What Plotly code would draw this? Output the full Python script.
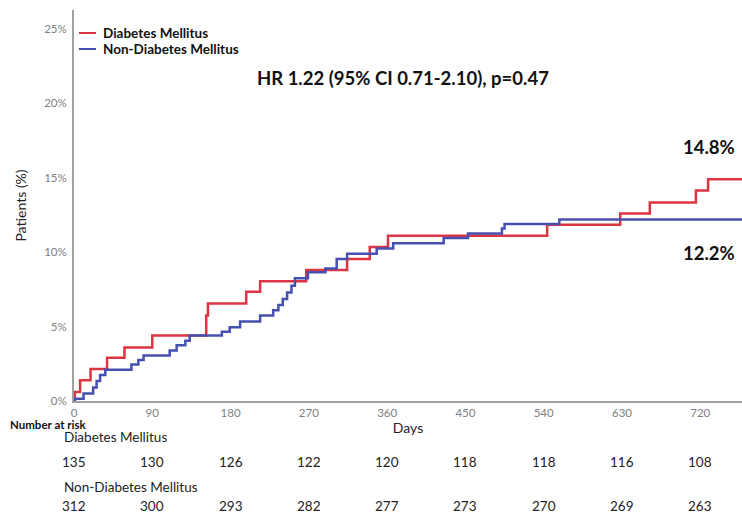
import plotly.graph_objects as go

# ---- data ----
dm_days = [0, 1, 7, 19, 38, 58, 90, 152, 154, 198, 214, 267, 314, 340, 361, 544, 628, 662, 715, 729, 768]
dm_pct = [0, 0.6, 1.4, 2.15, 2.9, 3.6, 4.4, 5.75, 6.55, 7.35, 8.05, 8.8, 9.55, 10.35, 11.1, 11.85, 12.6, 13.35, 14.15, 14.9, 14.9]

ndm_days = [0, 1, 11, 22, 26, 30, 36, 66, 74, 80, 110, 118, 128, 133, 170, 179, 191, 214, 229, 235,
            240, 245, 250, 254, 269, 289, 302, 314, 348, 367, 425, 453, 492, 495, 558, 768]
ndm_pct = [0, 0.15, 0.5, 0.9, 1.35, 1.75, 2.1, 2.45, 2.75, 3.05, 3.4, 3.75, 4.05, 4.4, 4.65, 4.95, 5.35,
           5.75, 6.1, 6.45, 6.85, 7.3, 7.75, 8.25, 8.65, 8.9, 9.55, 9.9, 10.25, 10.6, 10.95, 11.25,
           11.6, 11.9, 12.2, 12.2]

x_ticks = [0, 90, 180, 270, 360, 450, 540, 630, 720]
y_ticks = [0, 5, 10, 15, 20, 25]

risk_dm = [135, 130, 126, 122, 120, 118, 118, 116, 108]
risk_ndm = [312, 300, 293, 282, 277, 273, 270, 269, 263]

series_names = ["Diabetes Mellitus", "Non-Diabetes Mellitus"]
final_labels = ["14.8%", "12.2%"]
hr_text = "HR 1.22 (95% CI 0.71-2.10), p=0.47"

RED = "#dc3440"
BLUE = "#4550b0"
FONT = "Lato"

fig = go.Figure()
fig.add_trace(go.Scatter(x=dm_days, y=dm_pct, mode="lines", line_shape="hv",
                         line=dict(color=RED, width=2.5), name=series_names[0], showlegend=False))
fig.add_trace(go.Scatter(x=ndm_days, y=ndm_pct, mode="lines", line_shape="hv",
                         line=dict(color=BLUE, width=2.5), name=series_names[1], showlegend=False))

ann = []
shapes = []
# legend drawn in the top-left corner
for name, col, ly in zip(series_names, [RED, BLUE], [0.9412, 0.9003]):
    shapes.append(dict(type="line", xref="paper", yref="paper", x0=0.0075, x1=0.0329, y0=ly, y1=ly,
                       line=dict(color=col, width=2)))
    ann.append(dict(x=0.0410, y=ly, xref="paper", yref="paper", xanchor="left", yanchor="middle",
                    text=f"<b>{name}</b>", showarrow=False,
                    font=dict(family=FONT, size=13.5, color="#111")))

# HR text and final values
ann.append(dict(x=378, y=21.74, xref="x", yref="y", text=f"<b>{hr_text}</b>", showarrow=False,
                font=dict(family=FONT, size=18.5, color="#111")))
ann.append(dict(x=730, y=17.07, xref="x", yref="y", text=f"<b>{final_labels[0]}</b>", showarrow=False,
                font=dict(family=FONT, size=18.5, color="#111")))
ann.append(dict(x=730, y=9.95, xref="x", yref="y", text=f"<b>{final_labels[1]}</b>", showarrow=False,
                font=dict(family=FONT, size=18.5, color="#111")))

# number at risk table
ann.append(dict(x=-0.0988, y=-0.060, xref="paper", yref="paper", xanchor="left", yanchor="middle",
                text="<b>Number at risk</b>", showarrow=False,
                font=dict(family=FONT, size=11.5, color="#111")))
ann.append(dict(x=-0.018, y=-0.092, xref="paper", yref="paper", xanchor="left", yanchor="middle",
                text=series_names[0], showarrow=False, font=dict(family=FONT, size=13.5, color="#222")))
ann.append(dict(x=-0.018, y=-0.220, xref="paper", yref="paper", xanchor="left", yanchor="middle",
                text=series_names[1], showarrow=False, font=dict(family=FONT, size=13.5, color="#222")))
for d, n in zip(x_ticks, risk_dm):
    ann.append(dict(x=d, y=-0.156, xref="x", yref="paper", text=str(n), showarrow=False,
                    xanchor="center", yanchor="middle", font=dict(family=FONT, size=13.5, color="#222")))
for d, n in zip(x_ticks, risk_ndm):
    ann.append(dict(x=d, y=-0.2685, xref="x", yref="paper", text=str(n), showarrow=False,
                    xanchor="center", yanchor="middle", font=dict(family=FONT, size=13.5, color="#222")))

fig.update_layout(
    width=742, height=516,
    margin=dict(l=74, r=0, t=10, b=115),
    paper_bgcolor="white", plot_bgcolor="white",
    font=dict(family=FONT, color="#222"),
    showlegend=False,
    annotations=ann,
    shapes=shapes,
    xaxis=dict(range=[0, 768], tickvals=x_ticks, ticktext=[str(v) for v in x_ticks],
               showgrid=False, zeroline=False, showline=True, linecolor="#a0a0a0", linewidth=2,
               ticks="", tickfont=dict(family=FONT, size=11.5, color="#808080"), automargin=False,
               title=dict(text="Days", font=dict(family=FONT, size=14, color="#222"), standoff=5)),
    yaxis=dict(range=[0, 26.28], tickvals=y_ticks, ticktext=[f"{v}%" for v in y_ticks],
               showgrid=False, zeroline=False, showline=True, linecolor="#a0a0a0", linewidth=2,
               ticks="", tickfont=dict(family=FONT, size=11.5, color="#808080"), automargin=False,
               ticklabelstandoff=3,
               title=dict(text="Patients (%)", font=dict(family=FONT, size=14, color="#222"), standoff=14)),
)

fig.write_html("out.html", config={"displayModeBar": False},
               post_script="document.body.style.margin='0px';")
